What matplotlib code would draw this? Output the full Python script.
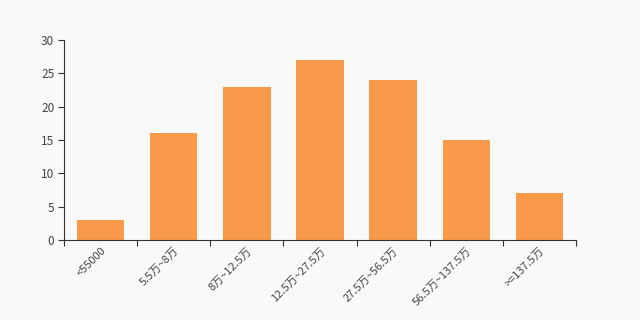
import matplotlib
matplotlib.use('Agg')
import matplotlib.pyplot as plt
import numpy as np

plt.rcParams['font.family'] = ['Noto Sans CJK SC', 'DejaVu Sans']

categories = ['<55000', '5.5万~8万', '8万~12.5万', '12.5万~27.5万',
              '27.5万~56.5万', '56.5万~137.5万', '>=137.5万']
counts = [3, 16, 23, 27, 24, 15, 7]

bg = '#f9f9f9'
fig = plt.figure(figsize=(6.4, 3.2), dpi=100, facecolor=bg)
ax = fig.add_axes([0.1, 0.25, 0.8, 0.625], facecolor=bg)

x = np.arange(len(categories))
ax.bar(x, counts, width=0.65, color='#f89a4a', zorder=2)

ax.set_xlim(-0.5, len(categories) - 0.5)
ax.set_ylim(0, 30)
ax.set_yticks([0, 5, 10, 15, 20, 25, 30])

# ticks on category boundaries, labels at centres
ax.set_xticks(np.arange(len(categories) + 1) - 0.5)
ax.set_xticklabels([])
ax.set_xticks(x, minor=True)
ax.set_xticklabels(categories, minor=True, rotation=45, ha='right',
                   rotation_mode='anchor', fontsize=8, color='#444444')
ax.tick_params(axis='x', which='minor', length=0, pad=4)
ax.tick_params(axis='x', which='major', length=4, color='#333333')
ax.tick_params(axis='y', length=4, color='#333333', labelsize=8.5,
               labelcolor='#444444', pad=3)

for side in ['top', 'right']:
    ax.spines[side].set_visible(False)
for side in ['left', 'bottom']:
    ax.spines[side].set_color('#333333')
    ax.spines[side].set_linewidth(0.8)

fig.savefig('out.png', dpi=100, facecolor=bg)
